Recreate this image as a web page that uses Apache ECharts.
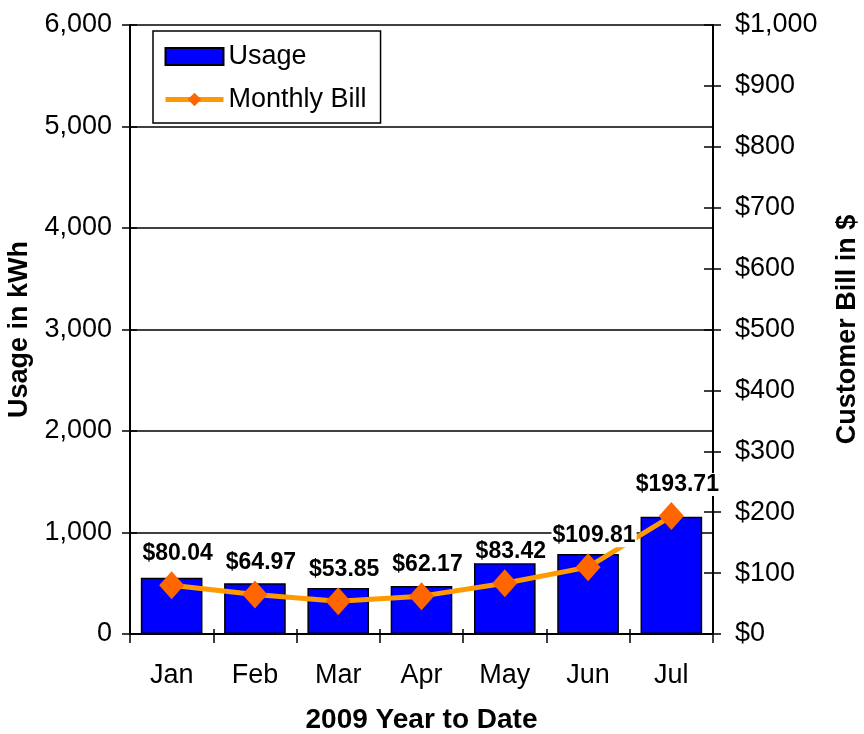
<!DOCTYPE html>
<html>
<head>
<meta charset="utf-8">
<script src="https://cdn.jsdelivr.net/npm/echarts@6/dist/echarts.min.js"></script>
<style>
  html, body { margin: 0; padding: 0; background: #fff; }
  #chart { width: 864px; height: 734px; }
</style>
</head>
<body>
<div id="chart"></div>
<script>
// ---- data ----
const months = ['Jan', 'Feb', 'Mar', 'Apr', 'May', 'Jun', 'Jul'];
const usageKWh = [555, 499, 453, 473, 700, 788, 1156];
const monthlyBill = [80.04, 64.97, 53.85, 62.17, 83.42, 109.81, 193.71];
const usageAxisMin = 0, usageAxisMax = 6000, usageAxisStep = 1000;
const billAxisMin = 0, billAxisMax = 1000, billAxisStep = 100;
const seriesNames = ['Usage', 'Monthly Bill'];
const xTitle = '2009 Year to Date';
const leftTitle = 'Usage in kWh';
const rightTitle = 'Customer Bill in $';

const FONT = "'Liberation Sans', Arial, sans-serif";
const chart = echarts.init(document.getElementById('chart'), null, { renderer: 'canvas' });

const fmtUsage = v => Number(v).toLocaleString('en-US');
const fmtBill = v => '$' + Number(v).toLocaleString('en-US');

const baseY = {
  type: 'value',
  axisLine: { show: true, lineStyle: { color: '#000', width: 2 } },
  axisTick: { show: true, length: 8, lineStyle: { color: '#000', width: 1.5 } },
  splitLine: { show: false }
};

const option = {
  backgroundColor: '#fff',
  animation: false,
  textStyle: { fontFamily: FONT },
  grid: { left: 130, right: 151, top: 25, bottom: 100, containLabel: false, outerBoundsMode: 'none' },
  legend: {
    orient: 'vertical',
    left: 153,
    top: 31,
    padding: [12, 14, 10, 10],
    itemGap: 16,
    itemWidth: 58,
    itemHeight: 17,
    borderColor: '#000',
    borderWidth: 1.5,
    backgroundColor: '#fff',
    lineStyle: { width: 5 },
    textStyle: { fontSize: 27, color: '#000', fontFamily: FONT },
    data: [{ name: seriesNames[0], icon: 'rect' }, { name: seriesNames[1] }]
  },
  xAxis: [
    {
      type: 'category',
      data: months,
      boundaryGap: true,
      name: xTitle,
      nameLocation: 'middle',
      nameGap: 72,
      nameTextStyle: { fontSize: 28, fontWeight: 'bold', color: '#000', fontFamily: FONT },
      axisLine: { show: true, lineStyle: { color: '#000', width: 2 } },
      axisTick: { show: true, alignWithLabel: false, length: 9, lineStyle: { color: '#000', width: 1.5 } },
      axisLabel: { margin: 28, fontSize: 27, color: '#000', fontFamily: FONT }
    },
    {
      type: 'category',
      data: months,
      boundaryGap: true,
      position: 'bottom',
      axisLine: { show: false },
      axisTick: { show: true, inside: true, length: 5, lineStyle: { color: '#000', width: 1.5 } },
      axisLabel: { show: false }
    }
  ],
  yAxis: [
    Object.assign({}, baseY, {
      position: 'left',
      min: usageAxisMin, max: usageAxisMax, interval: usageAxisStep,
      name: leftTitle,
      nameLocation: 'middle',
      nameGap: 86,
      nameTextStyle: { fontSize: 27, fontWeight: 'bold', color: '#000', fontFamily: FONT },
      axisLabel: { margin: 18, fontSize: 27, color: '#000', fontFamily: FONT, formatter: fmtUsage },
      splitLine: { show: true, lineStyle: { color: '#000', width: 1.5 } }
    }),
    Object.assign({}, baseY, {
      position: 'right',
      min: billAxisMin, max: billAxisMax, interval: billAxisStep,
      name: rightTitle,
      nameLocation: 'middle',
      nameGap: 121,
      nameTextStyle: { fontSize: 27, fontWeight: 'bold', color: '#000', fontFamily: FONT },
      axisLabel: { margin: 22, fontSize: 27, color: '#000', fontFamily: FONT, formatter: fmtBill }
    }),
    Object.assign({}, baseY, {
      position: 'left',
      min: usageAxisMin, max: usageAxisMax, interval: usageAxisStep,
      axisLine: { show: false },
      axisTick: { show: true, inside: true, length: 7, lineStyle: { color: '#000', width: 1.5 } },
      axisLabel: { show: false }
    }),
    Object.assign({}, baseY, {
      position: 'right',
      min: billAxisMin, max: billAxisMax, interval: billAxisStep,
      axisLine: { show: false },
      axisTick: { show: true, inside: true, length: 9, lineStyle: { color: '#000', width: 1.5 } },
      axisLabel: { show: false }
    })
  ],
  series: [
    {
      name: seriesNames[0],
      type: 'bar',
      xAxisIndex: 0,
      yAxisIndex: 0,
      data: usageKWh,
      barCategoryGap: '26%',
      z: 2,
      itemStyle: { color: '#0000FF', borderColor: '#000', borderWidth: 1.5 }
    },
    {
      name: seriesNames[1],
      type: 'line',
      xAxisIndex: 0,
      yAxisIndex: 1,
      data: monthlyBill,
      z: 3,
      symbol: 'diamond',
      symbolSize: [25, 28],
      lineStyle: { color: '#FF9900', width: 5 },
      itemStyle: { color: '#FF6600' },
      label: {
        show: true,
        position: 'top',
        distance: 6,
        offset: [6, 0],
        fontSize: 23,
        fontWeight: 'bold',
        color: '#000',
        fontFamily: FONT,
        backgroundColor: '#fff',
        padding: [0, 1],
        formatter: p => '$' + Number(p.value).toFixed(2)
      }
    }
  ]
};

chart.setOption(option);
</script>
</body>
</html>
